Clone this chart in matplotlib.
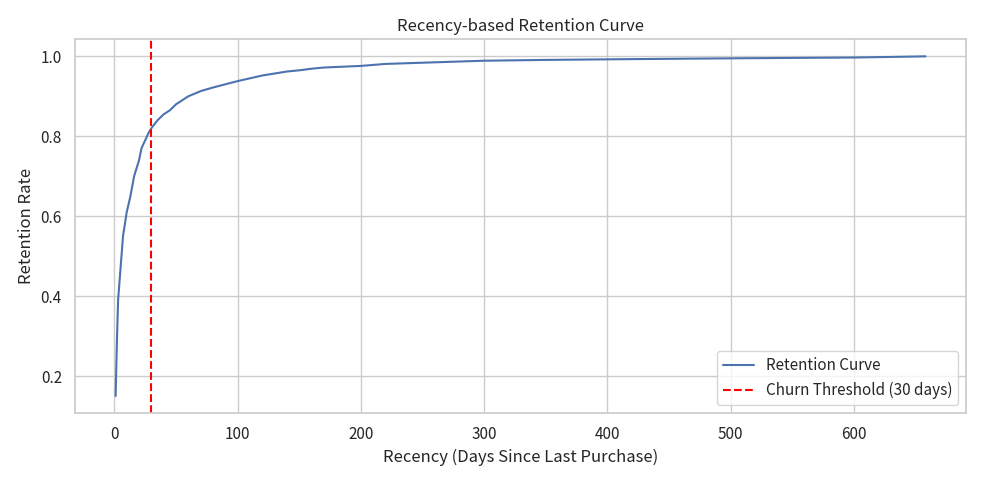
import matplotlib
matplotlib.use("Agg")
import matplotlib.pyplot as plt
import seaborn as sns

recency = [1, 2, 3, 5, 7, 10, 13, 16, 20, 22, 25, 28, 30, 35, 40, 45, 50, 55, 60, 70, 80, 90,
           100, 110, 120, 130, 140, 150, 160, 170, 200, 220, 260, 300, 350, 420, 500, 600, 640, 658]
retention = [0.15, 0.28, 0.39, 0.47, 0.55, 0.61, 0.65, 0.70, 0.74, 0.77, 0.79, 0.81, 0.82, 0.84,
             0.855, 0.865, 0.88, 0.89, 0.90, 0.913, 0.922, 0.93, 0.938, 0.945, 0.952, 0.957,
             0.962, 0.965, 0.969, 0.972, 0.976, 0.981, 0.985, 0.989, 0.991, 0.993, 0.995,
             0.997, 0.999, 1.0]
threshold = 30

sns.set_theme(style="whitegrid")
plt.rcParams['font.family'] = ['Noto Sans CJK KR', 'DejaVu Sans']

fig, ax = plt.subplots(figsize=(9.84, 4.84), dpi=100)
ax.plot(recency, retention, label="Retention Curve")
ax.axvline(threshold, color="red", linestyle="--", label="Churn Threshold (30 days)")
ax.set_title("Recency-based Retention Curve")
ax.set_xlabel("Recency (Days Since Last Purchase)")
ax.set_ylabel("Retention Rate")
ax.legend(loc="lower right")
fig.tight_layout()
fig.savefig("out.png")
